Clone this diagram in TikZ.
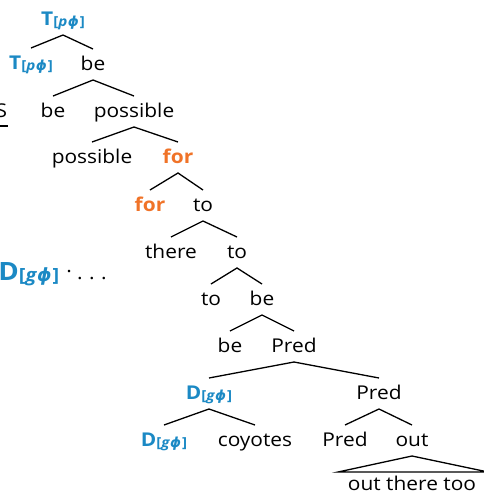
\documentclass[tikz,border=0pt]{standalone}
\usepackage{fontspec}
\setmainfont{Open Sans}[FakeStretch=1.1]
\newfontfamily\phifont{DejaVu Sans}
\usetikzlibrary{calc}
\definecolor{lblue}{RGB}{27,137,196}
\definecolor{lorange}{RGB}{240,115,40}
\newcommand\myphi{{\phifont\bfseries\itshape ϕ}}
\newcommand\Tsub{\textcolor{lblue}{\textbf{T}\raisebox{-0.5pt}{\fontsize{6.9}{8}\selectfont\bfseries[\itshape p\kern0.3pt\myphi\kern0.4pt\upshape]}}}
\newcommand\Dsub{\textcolor{lblue}{\textbf{D}\raisebox{-0.5pt}{\fontsize{6.9}{8}\selectfont\bfseries[\itshape g\kern0.3pt\myphi\kern0.4pt\upshape]}}}
\newcommand\BigDsub{\textcolor{lblue}{\textbf{D}\raisebox{-0.6pt}{\fontsize{9.1}{10}\selectfont\bfseries[\itshape g\kern0.4pt\myphi\kern0.5pt\upshape]}}}
\newcommand\br[3]{\draw[branch] ([yshift=10.5pt]#2.base) -- ([yshift=-5pt]#1.base) -- ([yshift=10.5pt]#3.base);}
\begin{document}
\begin{tikzpicture}[x=0.5pt,y=-0.5pt,
  lbl/.style={anchor=base,inner sep=0pt,font=\fontsize{9.5}{11}\selectfont},
  hl/.style={lbl,text=lorange,font=\fontsize{9.5}{11}\selectfont\bfseries},
  branch/.style={line width=0.65pt}]
\useasboundingbox (0,0) rectangle (483,493);
% nodes
\node[lbl] (t0) at (63,25) {\Tsub};
\node[lbl] (t1) at (31,69) {\Tsub};
\node[lbl] (be1) at (93,70) {be};
\node[lbl] (be2) at (53,117) {be};
\node[lbl] (pos1) at (134,117) {possible};
\node[lbl] (pos2) at (92,163) {possible};
\node[hl] (for1) at (178,163) {for};
\node[hl] (for2) at (150,211) {for};
\node[lbl] (to1) at (203,211) {to};
\node[lbl] (there) at (171,258) {there};
\node[lbl] (to2) at (237,258) {to};
\node[lbl] (to3) at (211,305) {to};
\node[lbl] (be3) at (262,305) {be};
\node[lbl] (be4) at (230,352) {be};
\node[lbl] (pred1) at (294,352) {Pred};
\node[lbl] (d1) at (209,399) {\Dsub};
\node[lbl] (pred2) at (379,399) {Pred};
\node[lbl] (d2) at (164,446) {\Dsub};
\node[lbl] (coy) at (255,446) {coyotes};
\node[lbl] (pred3) at (345,446) {Pred};
\node[lbl] (out) at (412,446) {out};
\node[lbl] (ott) at (412,490) {out there too};
% side material
\node[lbl,anchor=base east] (s) at (7.5,117) {S};
\draw[branch] (0,126) -- ([yshift=-4.5pt]s.base east);
\node[anchor=base west,inner sep=0pt,font=\fontsize{12.6}{14}\selectfont] (bigd) at (-2,280) {\BigDsub};
\node[anchor=base west,inner sep=0pt,font=\fontsize{9.5}{11}\selectfont] (dots) at (66,279) {\raisebox{3.5pt}{.}\hspace{2.6pt}.\hspace{3.2pt}.\hspace{3.2pt}.};
% branches
\br{t0}{t1}{be1}
\br{be1}{be2}{pos1}
\br{pos1}{pos2}{for1}
\br{for1}{for2}{to1}
\br{to1}{there}{to2}
\br{to2}{to3}{be3}
\br{be3}{be4}{pred1}
\br{pred1}{d1}{pred2}
\br{d1}{d2}{coy}
\br{pred2}{pred3}{out}
\coordinate (triL) at (338,472);
\coordinate (triR) at (488,472);
\draw[branch] ([yshift=-5pt]out.base) -- (triL) -- (triR) -- cycle;
\end{tikzpicture}
\end{document}
